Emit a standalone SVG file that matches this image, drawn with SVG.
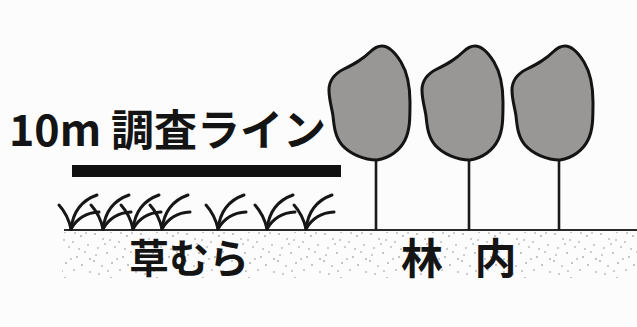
<svg xmlns="http://www.w3.org/2000/svg" width="637" height="327" viewBox="0 0 637 327">
  <style>
    .label { font-family: "Noto Sans CJK JP", "Noto Sans", sans-serif; font-weight: 700; fill: #141414; }
    .blade { fill: none; stroke: #161616; stroke-width: 3; stroke-linecap: round; }
    .crown { fill: #999795; stroke: #141414; stroke-width: 3; stroke-linejoin: round; }
    .trunk { stroke: #1a1a1a; stroke-width: 2.6; }
  </style>
  <defs>
    <!-- a single grass tuft, base at the origin -->
    <g id="tuft">
      <path class="blade" d="M0,0 Q-3,-14 -12,-24"/>
      <path class="blade" d="M0,0 Q3,-26 26,-34"/>
      <path class="blade" d="M0,0 Q9,-16 28,-17"/>
    </g>
    <!-- tree crown and trunk, trunk on x=0 -->
    <g id="tree">
      <line class="trunk" x1="0" y1="158" x2="0" y2="230"/>
      <path class="crown" d="M6,46 C14,46 20,54 25,62 C31,72 34,85 34,102 C34,118 34,130 29,140 C24,150 14,158 1,160 C-12,160 -26,154 -34,145 C-41,137 -42,126 -43,116 C-44,108 -47,100 -47,90 C-47,80 -42,74 -32,69 C-22,64 -14,60 -6,52 C-2,48 2,46 6,46 Z"/>
    </g>
    <!-- stippled soil -->
    <pattern id="soil" width="46" height="46" patternUnits="userSpaceOnUse">
      <g fill="#7a7a7a">
        <circle cx="3" cy="4" r="0.8"/><circle cx="11" cy="9" r="0.7"/><circle cx="19" cy="2" r="0.8"/>
        <circle cx="27" cy="12" r="0.7"/><circle cx="35" cy="6" r="0.8"/><circle cx="42" cy="15" r="0.7"/>
        <circle cx="6" cy="18" r="0.7"/><circle cx="15" cy="23" r="0.8"/><circle cx="23" cy="17" r="0.7"/>
        <circle cx="31" cy="27" r="0.8"/><circle cx="39" cy="22" r="0.7"/><circle cx="2" cy="31" r="0.8"/>
        <circle cx="10" cy="36" r="0.7"/><circle cx="20" cy="33" r="0.8"/><circle cx="28" cy="40" r="0.7"/>
        <circle cx="36" cy="35" r="0.8"/><circle cx="44" cy="42" r="0.7"/><circle cx="7" cy="44" r="0.7"/>
        <circle cx="16" cy="41" r="0.7"/><circle cx="25" cy="29" r="0.7"/><circle cx="33" cy="19" r="0.7"/>
        <circle cx="44" cy="29" r="0.8"/><circle cx="13" cy="14" r="0.7"/><circle cx="40" cy="3" r="0.7"/>
        <circle cx="29" cy="3" r="0.7"/><circle cx="4" cy="25" r="0.7"/><circle cx="18" cy="10" r="0.7"/>
      </g>
    </pattern>
  </defs>

  <rect width="637" height="327" fill="#fcfcfc"/>

  <!-- ground -->
  <g id="ground">
    <rect x="62" y="232" width="575" height="46" fill="url(#soil)"/>
    <line x1="64" y1="230" x2="637" y2="230" stroke="#2a2a2a" stroke-width="2"/>
  </g>

  <!-- survey line -->
  <g id="survey-line">
    <text class="label" x="9" y="146" font-size="43">10m 調査ライン</text>
    <rect x="72" y="165" width="269" height="12" fill="#111"/>
  </g>

  <!-- grass patch -->
  <g id="grass">
    <use href="#tuft" x="71" y="229"/>
    <use href="#tuft" x="103" y="229"/>
    <use href="#tuft" x="133" y="229"/>
    <use href="#tuft" x="162" y="229"/>
    <use href="#tuft" x="218" y="229"/>
    <use href="#tuft" x="267" y="229"/>
    <use href="#tuft" x="306" y="229"/>
    <text class="label" x="129" y="273" font-size="40">草むら</text>
  </g>

  <!-- forest -->
  <g id="forest">
    <use href="#tree" x="376"/>
    <use href="#tree" x="469"/>
    <use href="#tree" x="559"/>
    <text class="label" x="401" y="274" font-size="42" word-spacing="22">林 内</text>
  </g>
</svg>
